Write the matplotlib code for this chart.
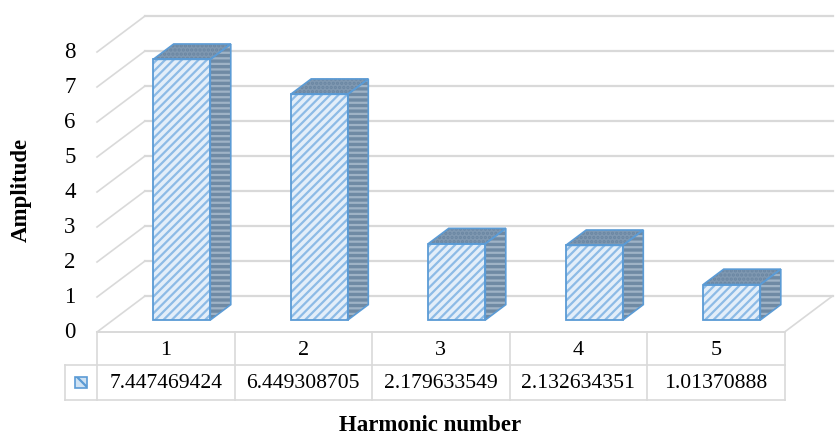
import numpy as np
import matplotlib.pyplot as plt
from matplotlib.patches import Polygon, Rectangle

plt.rcParams['font.family'] = ['Liberation Serif', 'DejaVu Serif']
plt.rcParams['hatch.linewidth'] = 1.6

harmonics = [1, 2, 3, 4, 5]
amplitude = [7.447469424, 6.449308705, 2.179633549, 2.132634351, 1.01370888]
value_labels = ['7.447469424', '6.449308705', '2.179633549', '2.132634351', '1.01370888']
yticks = [0, 1, 2, 3, 4, 5, 6, 7, 8]

# fake 3d: depth offset of the floor in data units
DX = 0.349
DY = 1.029
d_front = 0.333
d_back = 0.76
bar_w = 0.415

grid_c = '#d9d9d9'
edge_c = '#5b9bd5'

fig = plt.figure(figsize=(8.39, 4.36), dpi=100)
ax = fig.add_axes([0, 0, 1, 1])
ax.set_xlim(-0.2055, 5.896)
ax.set_ylim(-2.971, 9.486)
ax.axis('off')

x = np.array(harmonics, dtype=float)
vals = np.array(amplitude)
left_x = x.min() - 0.5
right_x = x.max() + 0.5

# walls / gridlines
for v in yticks:
    ax.plot([left_x, left_x + DX], [v, v + DY], color=grid_c, lw=1.2, zorder=1)
    ax.plot([left_x + DX, right_x + DX], [v + DY, v + DY], color=grid_c, lw=1.6, zorder=1)
    ax.text(left_x - 0.155, v, str(v), ha='right', va='center', fontsize=16.5)
ax.plot([right_x, right_x + DX], [0, DY], color=grid_c, lw=1.2, zorder=1)

# bars
xf = x + d_front * DX
base = d_front * DY
dd = d_back - d_front
ax.bar(xf, vals, width=bar_w, bottom=base, color='#e3eef9', edgecolor='#8dbbe6',
       hatch='////', lw=0, zorder=3)
ax.bar(xf, vals, width=bar_w, bottom=base, fill=False, edgecolor=edge_c, lw=1.3, zorder=4)
for xc, v in zip(xf, vals):
    xl, xr = xc - bar_w / 2, xc + bar_w / 2
    top = base + v
    top_face = [(xl, top), (xr, top), (xr + dd * DX, top + dd * DY), (xl + dd * DX, top + dd * DY)]
    side_face = [(xr, base), (xr + dd * DX, base + dd * DY), (xr + dd * DX, top + dd * DY), (xr, top)]
    ax.add_patch(Polygon(top_face, closed=True, facecolor='#7f98b1', edgecolor='#6a86a2',
                         hatch='....', lw=0, zorder=3))
    ax.add_patch(Polygon(top_face, closed=True, fill=False, edgecolor=edge_c, lw=1.2, zorder=4))
    ax.add_patch(Polygon(side_face, closed=True, facecolor='#6f8aa4', edgecolor='#9fb3c6',
                         hatch='---', lw=0, zorder=3))
    ax.add_patch(Polygon(side_face, closed=True, fill=False, edgecolor=edge_c, lw=1.2, zorder=4))

# data table
row1 = -0.943
row2 = -1.943
key_x = 0.267
ax.plot([left_x, right_x], [0, 0], color=grid_c, lw=1.4, zorder=2)
ax.plot([key_x, right_x], [row1, row1], color=grid_c, lw=1.2)
ax.plot([key_x, right_x], [row2, row2], color=grid_c, lw=1.2)
ax.plot([key_x, key_x], [row1, row2], color=grid_c, lw=1.2)
for b in np.arange(left_x, right_x + 0.01, 1.0):
    ax.plot([b, b], [0, row2], color=grid_c, lw=1.2)
for xc, h, lab in zip(x, harmonics, value_labels):
    ax.text(xc, row1 / 2 - 0.06, str(h), ha='center', va='center', fontsize=16)
    ax.text(xc, (row1 + row2) / 2 - 0.04, lab, ha='center', va='center', fontsize=15.6)

# legend key
kx = (key_x + left_x) / 2
ax.add_patch(Rectangle((kx - 0.045, (row1 + row2) / 2 - 0.17), 0.09, 0.34,
                       facecolor='#cfe2f3', edgecolor=edge_c, hatch='\\\\', lw=1.2, zorder=3))

ax.text(-0.05, 4.06, 'Amplitude', rotation=90, ha='center', va='center',
        fontsize=16.5, fontweight='bold')
ax.text(2.92, -2.68, 'Harmonic number', ha='center', va='center',
        fontsize=16.5, fontweight='bold')

fig.savefig('out.png', dpi=100)
